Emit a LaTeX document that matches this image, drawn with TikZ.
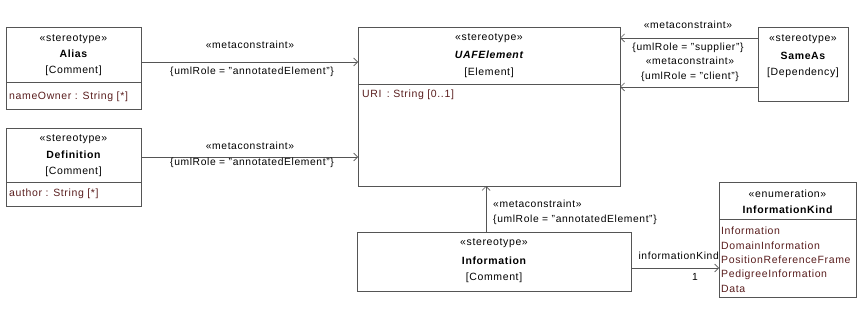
\documentclass[tikz,border=0pt]{standalone}
\usepackage{fontspec}
\setmainfont[LetterSpace=6]{Liberation Sans}
\usetikzlibrary{arrows.meta}
\definecolor{linecol}{HTML}{555555}
\definecolor{attrcol}{HTML}{5A1E1E}
\tikzset{
  umlbox/.style={draw=linecol, line width=0.8pt, fill=white, inner sep=0pt, anchor=north west},
  divider/.style={draw=linecol, line width=0.8pt},
  conn/.style={draw=linecol, line width=0.7pt, -{Straight Barb[length=4pt,width=8pt]}},
  txt/.style={inner sep=0pt, font=\fontsize{10.5}{12}\selectfont, text=black},
  bold/.style={txt, font=\fontsize{10.5}{12}\selectfont\bfseries},
  attr/.style={txt, text=attrcol, anchor=west},
  lbl/.style={inner sep=0pt, font=\fontsize{10.3}{11}\selectfont, text=black}
}
\begin{document}
\begin{tikzpicture}[x=1pt,y=-1pt]
\useasboundingbox (0,0) rectangle (864,320);
% Alias
\node[umlbox, minimum width=135pt, minimum height=82pt] (alias) at (6,27) {};
\node[txt] (aliasst) at (73.5,39) {«stereotype»};
\node[bold] (aliasnm) at (73.5,54) {Alias};
\node[txt] (aliasmc) at (73.5,71) {[Comment]};
\draw[divider] (6,82) -- (141,82);
\node[attr] (aliasat) at (9,97) {nameOwner : String [*]};
% Definition
\node[umlbox, minimum width=135pt, minimum height=78pt] (defn) at (6,128) {};
\node[txt] (defst) at (73.5,139) {«stereotype»};
\node[bold] (defnm) at (73.5,155) {Definition};
\node[txt] (defmc) at (73.5,172) {[Comment]};
\draw[divider] (6,182) -- (141,182);
\node[attr] (defat) at (9,194) {author : String [*]};
% UAFElement
\node[umlbox, minimum width=262pt, minimum height=159pt] (uaf) at (358,27) {};
\node[txt] (uafst) at (489,38) {«stereotype»};
\node[txt, font=\fontsize{10.5}{12}\selectfont\bfseries\itshape] (uafnm) at (489,55) {UAFElement};
\node[txt] (uafmc) at (489,73) {[Element]};
\draw[divider] (358,84) -- (620,84);
\node[attr] (uafat) at (362,95) {URI \,: String [0..1]};
% SameAs
\node[umlbox, minimum width=90pt, minimum height=74pt] (sameas) at (758,27) {};
\node[txt] (samest) at (803,39) {«stereotype»};
\node[bold] (samenm) at (803,56) {SameAs};
\node[txt] (samemc) at (803,73) {[Dependency]};
% Information
\node[umlbox, minimum width=274pt, minimum height=59pt] (info) at (357,232) {};
\node[txt] (infost) at (494,243) {«stereotype»};
\node[bold] (infonm) at (494,261) {Information};
\node[txt] (infomc) at (494,278) {[Comment]};
% InformationKind
\node[umlbox, minimum width=137pt, minimum height=115pt] (ik) at (719,182) {};
\node[txt] (ikst) at (787.5,194) {«enumeration»};
\node[bold] (iknm) at (787.5,210) {InformationKind};
\draw[divider] (719,219) -- (856,219);
\node[attr] (ik1) at (721,231) {Information};
\node[attr] (ik2) at (721,245.5) {DomainInformation};
\node[attr] (ik3) at (721,260) {PositionReferenceFrame};
\node[attr] (ik4) at (721,274.5) {PedigreeInformation};
\node[attr] (ik5) at (721,289) {Data};
% connectors
\coordinate (a1) at (141,62); \coordinate (a2) at (358,62);
\draw[conn] (a1) -- (a2);
\node[lbl] (l1a) at (250,45) {«metaconstraint»};
\node[lbl] (l1b) at (252,72) {\{umlRole = "annotatedElement"\}};
\coordinate (b1) at (141,157); \coordinate (b2) at (358,157);
\draw[conn] (b1) -- (b2);
\node[lbl] (l2a) at (250,146) {«metaconstraint»};
\node[lbl] (l2b) at (252,163) {\{umlRole = "annotatedElement"\}};
\coordinate (c1) at (758,38); \coordinate (c2) at (620,38);
\draw[conn] (c1) -- (c2);
\node[lbl] (l3a) at (688,25) {«metaconstraint»};
\node[lbl] (l3b) at (688,48) {\{umlRole = "supplier"\}};
\coordinate (d1) at (758,87); \coordinate (d2) at (620,87);
\draw[conn] (d1) -- (d2);
\node[lbl] (l4a) at (690,61) {«metaconstraint»};
\node[lbl] (l4b) at (690,77) {\{umlRole = "client"\}};
\coordinate (e1) at (486,232); \coordinate (e2) at (486,186);
\draw[conn] (e1) -- (e2);
\node[lbl, anchor=west] (l5a) at (493,204) {«metaconstraint»};
\node[lbl, anchor=west] (l5b) at (493,220) {\{umlRole = "annotatedElement"\}};
\coordinate (f1) at (631,268); \coordinate (f2) at (719,268);
\draw[conn] (f1) -- (f2);
\node[lbl, anchor=east] (l6a) at (719,256) {informationKind};
\node[lbl] (l6b) at (695,277) {1};
\end{tikzpicture}
\end{document}
